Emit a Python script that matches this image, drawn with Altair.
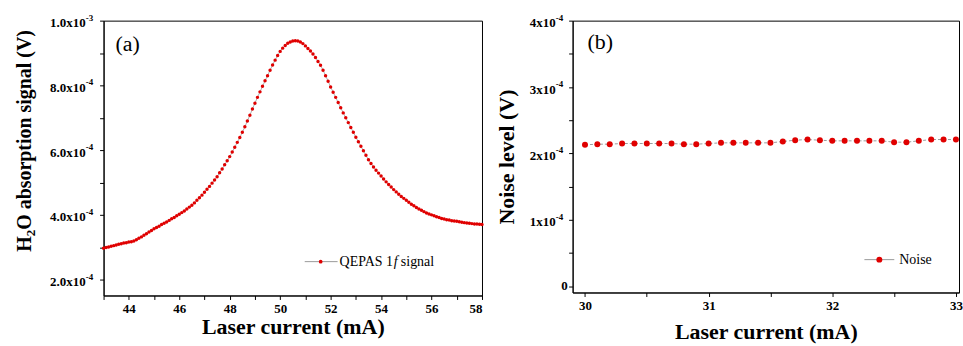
import altair as alt
import pandas as pd

# ---------------- data ----------------
# (a) QEPAS 1f signal, laser current 43.0 ... 58.0 mA step 0.1 ; values in 1e-4 V
current_a = [round(43.0 + 0.1 * i, 1) for i in range(151)]
signal_a_e4 = [
    2.97, 2.99, 3.01, 3.03, 3.05, 3.07, 3.09, 3.11, 3.13, 3.14,
    3.16, 3.17, 3.19, 3.23, 3.28, 3.32, 3.37, 3.42, 3.47, 3.52,
    3.57, 3.61, 3.65, 3.70, 3.74, 3.78, 3.83, 3.88, 3.92, 3.97,
    4.02, 4.07, 4.12, 4.18, 4.24, 4.30, 4.37, 4.45, 4.53, 4.61,
    4.70, 4.79, 4.88, 4.98, 5.08, 5.18, 5.30, 5.42, 5.55, 5.67,
    5.80, 5.94, 6.09, 6.24, 6.39, 6.55, 6.72, 6.90, 7.08, 7.27,
    7.45, 7.63, 7.80, 7.97, 8.14, 8.30, 8.47, 8.63, 8.78, 8.92,
    9.05, 9.15, 9.23, 9.30, 9.34, 9.37, 9.38, 9.37, 9.34, 9.29,
    9.22, 9.14, 9.06, 8.97, 8.86, 8.74, 8.62, 8.47, 8.30, 8.13,
    7.95, 7.79, 7.63, 7.47, 7.31, 7.15, 7.00, 6.85, 6.70, 6.55,
    6.40, 6.26, 6.12, 5.98, 5.84, 5.70, 5.59, 5.48, 5.38, 5.29,
    5.20, 5.11, 5.02, 4.94, 4.86, 4.78, 4.71, 4.64, 4.57, 4.51,
    4.45, 4.39, 4.33, 4.28, 4.23, 4.18, 4.14, 4.10, 4.06, 4.03,
    4.00, 3.97, 3.94, 3.92, 3.89, 3.87, 3.85, 3.84, 3.82, 3.81,
    3.80, 3.79, 3.77, 3.76, 3.75, 3.74, 3.73, 3.72, 3.72, 3.71,
    3.70,
]

# (b) Noise, laser current 30.0 ... 33.0 mA step 0.1 ; values in 1e-4 V
current_b = [round(30.0 + 0.1 * i, 1) for i in range(31)]
noise_b_e4 = [
    2.13, 2.14, 2.14, 2.15, 2.15, 2.15, 2.15, 2.15, 2.14, 2.14,
    2.15, 2.16, 2.16, 2.16, 2.16, 2.16, 2.18, 2.20, 2.21, 2.20,
    2.19, 2.19, 2.19, 2.19, 2.19, 2.17, 2.17, 2.19, 2.21, 2.21,
    2.21,
]

# tick positions and tick labels
ticks_xa = list(range(43, 59))
ticks_ya = [k * 1e-4 for k in range(2, 11)]
ylab_a_pos = [2e-4, 4e-4, 6e-4, 8e-4, 1e-3]
ylab_a_base = ["2.0x10", "4.0x10", "6.0x10", "8.0x10", "1.0x10"]
ylab_a_exp = ["-4", "-4", "-4", "-4", "-3"]

ticks_xb = [30, 30.5, 31, 31.5, 32, 32.5, 33]
ticks_yb = [k * 0.5e-4 for k in range(0, 9)]
ylab_b_pos = [1e-4, 2e-4, 3e-4, 4e-4]
ylab_b_base = ["1x10", "2x10", "3x10", "4x10"]
ylab_b_exp = ["-4", "-4", "-4", "-4"]
ylab_b_zero = ["0"]

# y title of panel (a), split for the subscript
ytitle_a = ["H", "2", "O absorption signal (V)"]

xdom_b = [29.9, 33.025]
ydom_b = [-0.093e-4, 4.0e-4]

df_a = pd.DataFrame({"current": current_a, "signal": [v * 1e-4 for v in signal_a_e4]})
df_b = pd.DataFrame({"current": current_b, "noise": [v * 1e-4 for v in noise_b_e4]})
df_ylab_a = pd.DataFrame({"v": ylab_a_pos, "base": ylab_a_base, "exp": ylab_a_exp})
df_ylab_b = pd.DataFrame({"v": ylab_b_pos, "base": ylab_b_base, "exp": ylab_b_exp})
df_ylab_b0 = pd.DataFrame({"v": [0.0], "base": ylab_b_zero})

FONT = "Liberation Serif"
RED = "#e00000"
GREY = "#9a9a9a"


def ax(**kw):
    base = dict(
        labelFont=FONT, labelFontSize=13, labelFontWeight="bold", labelColor="black",
        titleFont=FONT, titleFontWeight="bold", titleColor="black",
        domainColor="black", domainWidth=1, tickColor="black", tickSize=4,
        tickWidth=1, labelPadding=3, grid=False, labelOverlap=False,
    )
    base.update(kw)
    return alt.Axis(**base)


def one(**kw):
    return pd.DataFrame({k: [v] for k, v in kw.items()})


def label_text(df, field, yscale, yaxis, x, dy, size, align):
    return alt.Chart(df).mark_text(
        font=FONT, fontSize=size, fontWeight="bold", align=align,
        baseline="middle", dy=dy, color="black",
    ).encode(
        x=alt.value(x),
        y=alt.Y("v:Q", scale=yscale, axis=yaxis),
        text=f"{field}:N",
    )


def vtext(t, x, y, size):
    return alt.Chart(one(t=t)).mark_text(
        font=FONT, fontSize=size, fontWeight="bold", angle=270, align="left",
        baseline="alphabetic", color="black",
    ).encode(x=alt.value(x), y=alt.value(y), text="t:N")


# ---------------- panel (a) ----------------
scale_ya = alt.Scale(domain=[1.51e-4, 1.0e-3], nice=False, zero=False)
axis_ya = ax(values=ticks_ya, labels=False, title=None)
xa = alt.X(
    "current:Q",
    scale=alt.Scale(domain=[43, 58], nice=False, zero=False),
    axis=ax(values=ticks_xa, labelExpr="datum.value % 2 == 0 ? datum.label : ''",
            title="Laser current (mA)", titleFontSize=22, titlePadding=1),
)
ya = alt.Y("signal:Q", scale=scale_ya, axis=axis_ya)

line_a = alt.Chart(df_a).mark_line(color=GREY, strokeWidth=0.8).encode(x=xa, y=ya)
pts_a = alt.Chart(df_a).mark_circle(color=RED, size=12, opacity=1).encode(x=xa, y=ya)

ylab_a1 = label_text(df_ylab_a, "base", scale_ya, axis_ya, -18, 2.5, 13, "right")
ylab_a2 = label_text(df_ylab_a, "exp", scale_ya, axis_ya, -18, -3, 9, "left")

ttl_a1 = vtext(ytitle_a[0], -73, 232, 20)
ttl_a2 = vtext(ytitle_a[1], -69, 216.5, 13)
ttl_a3 = vtext(ytitle_a[2], -73, 210, 20)

lab_a = alt.Chart(one(t="(a)")).mark_text(
    font=FONT, fontSize=22, align="left", baseline="middle", color="black"
).encode(x=alt.value(12), y=alt.value(23), text="t:N")

leg_a_rule = alt.Chart(one(t=0)).mark_rule(color=GREY, strokeWidth=1).encode(
    x=alt.value(202), x2=alt.value(235), y=alt.value(242))
leg_a_pt = alt.Chart(one(t=0)).mark_circle(color=RED, size=14, opacity=1).encode(
    x=alt.value(218), y=alt.value(242))
leg_a_t1 = alt.Chart(one(t="QEPAS 1")).mark_text(
    font=FONT, fontSize=14, align="left", baseline="middle", color="black"
).encode(x=alt.value(237), y=alt.value(242), text="t:N")
leg_a_t2 = alt.Chart(one(t="f")).mark_text(
    font=FONT, fontSize=14, fontStyle="italic", align="left", baseline="middle", color="black"
).encode(x=alt.value(291.5), y=alt.value(242), text="t:N")
leg_a_t3 = alt.Chart(one(t="signal")).mark_text(
    font=FONT, fontSize=14, align="left", baseline="middle", color="black"
).encode(x=alt.value(298.5), y=alt.value(242), text="t:N")

left = alt.layer(
    line_a, pts_a, ylab_a1, ylab_a2, ttl_a1, ttl_a2, ttl_a3,
    lab_a, leg_a_rule, leg_a_pt, leg_a_t1, leg_a_t2, leg_a_t3
).properties(
    width=380, height=276,
    title=alt.TitleParams(" ", fontSize=1, offset=7),
)

# ---------------- panel (b) ----------------
scale_xb = alt.Scale(domain=xdom_b, nice=False, zero=False)
scale_yb = alt.Scale(domain=ydom_b, nice=False, zero=False)
axis_yb = ax(values=ticks_yb, labels=False,
             title="Noise level (V)", titleFontSize=22, titlePadding=50)
axis_xb = ax(values=ticks_xb, labelExpr="datum.value % 1 == 0 ? format(datum.value, 'd') : ''",
             title="Laser current (mA)", titleFontSize=22, titlePadding=9)
xb = alt.X("current:Q", scale=scale_xb, axis=axis_xb)
yb = alt.Y("noise:Q", scale=scale_yb, axis=axis_yb)

line_b = alt.Chart(df_b).mark_line(color=GREY, strokeWidth=1, strokeDash=[3, 2]).encode(x=xb, y=yb)
pts_b = alt.Chart(df_b).mark_circle(color=RED, size=36, opacity=1).encode(x=xb, y=yb)

ylab_b1 = label_text(df_ylab_b, "base", scale_yb, axis_yb, -17, 2.5, 13, "right")
ylab_b2 = label_text(df_ylab_b, "exp", scale_yb, axis_yb, -17, -3, 9, "left")
ylab_b0 = label_text(df_ylab_b0, "base", scale_yb, axis_yb, -5, 0, 13, "right")

lab_b = alt.Chart(one(t="(b)")).mark_text(
    font=FONT, fontSize=22, align="left", baseline="middle", color="black"
).encode(x=alt.value(15), y=alt.value(21), text="t:N")

leg_b_rule = alt.Chart(one(t=0)).mark_rule(color=GREY, strokeWidth=1).encode(
    x=alt.value(293), x2=alt.value(323), y=alt.value(240))
leg_b_pt = alt.Chart(one(t=0)).mark_circle(color=RED, size=36, opacity=1).encode(
    x=alt.value(308), y=alt.value(240))
leg_b_t = alt.Chart(one(t="Noise")).mark_text(
    font=FONT, fontSize=14, align="left", baseline="middle", color="black"
).encode(x=alt.value(328), y=alt.value(240), text="t:N")

right = alt.layer(
    line_b, pts_b, ylab_b1, ylab_b2, ylab_b0, lab_b, leg_b_rule, leg_b_pt, leg_b_t
).properties(width=388, height=273)

chart = alt.hconcat(left, right, spacing=10).properties(
    padding={"left": 14, "top": 4, "right": 0, "bottom": 0},
    background="white",
).configure_view(stroke="black", strokeWidth=1)

chart.save("out.html", embed_options={"renderer": "svg", "actions": False})
